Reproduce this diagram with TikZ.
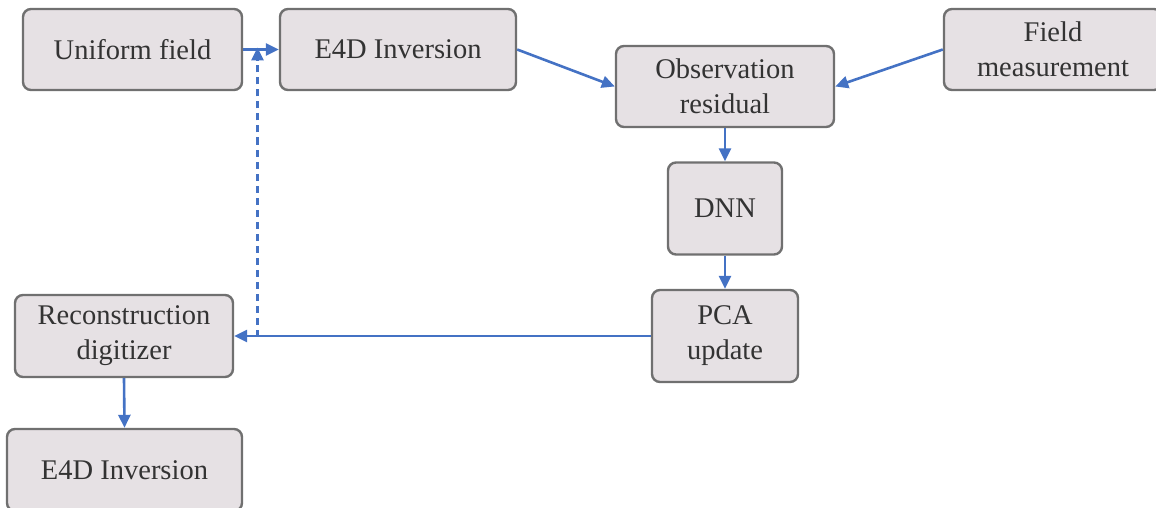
\documentclass[tikz,border=0pt]{standalone}
\usepackage{fontspec}
\setmainfont{LiberationSerif}[Extension=.ttf, UprightFont=*-Regular, BoldFont=*-Bold]
\usetikzlibrary{arrows.meta}
\definecolor{boxfill}{HTML}{E6E1E4}
\definecolor{boxline}{HTML}{707070}
\definecolor{flow}{HTML}{4472C4}
\definecolor{ink}{HTML}{333333}
\begin{document}
\begin{tikzpicture}[x=1pt, y=-1pt,
  stagebox/.style={draw=boxline, line width=2.4pt, fill=boxfill, rounded corners=8pt,
    text=ink, align=center, inner sep=0pt,
    font=\rmfamily\fontsize{28.5}{35}\selectfont},
  flowarrow/.style={draw=flow, line width=2.6pt, -{Triangle[length=13pt,width=12pt]}},
  dashflow/.style={flowarrow, dash pattern=on 7pt off 5pt}
]
\useasboundingbox (0,0) rectangle (1156,508);

% stages of the workflow
\node[stagebox, minimum width=219pt, minimum height=81pt] (uni) at (132.5,49.5) {Uniform field};
\node[stagebox, minimum width=236pt, minimum height=81pt] (inv) at (398,49.5) {E4D Inversion};
\node[stagebox, minimum width=218pt, minimum height=81pt] (obs) at (725,86.5) {Observation\\residual};
\node[stagebox, minimum width=218pt, minimum height=81pt] (meas) at (1053,49.5) {Field\\measurement};
\node[stagebox, minimum width=114pt, minimum height=92pt] (dnn) at (725,208.5) {DNN};
\node[stagebox, minimum width=146pt, minimum height=92pt] (pca) at (725,336) {PCA\\update};
\node[stagebox, minimum width=218pt, minimum height=82pt] (rec) at (124,336) {Reconstruction\\digitizer};
\node[stagebox, minimum width=235pt, minimum height=82pt] (inv2) at (124.5,470) {E4D Inversion};

% junction points of the feedback loop
\coordinate (loopTop) at (257.5,49.5);
\coordinate (loopBot) at (257.5,336.5);

% connectors
\draw[flowarrow] (uni.east) -- (inv.west);
\draw[flowarrow] (inv.east) -- (obs.west);
\draw[flowarrow] (meas.west) -- (obs.east);
\draw[flowarrow] (obs.south) -- (dnn.north);
\draw[flowarrow] (dnn.south) -- (pca.north);
\draw[flowarrow] (pca.west) -- (rec.east);
\draw[flowarrow] (rec.south) -- (inv2.north);
\draw[dashflow] (loopBot) -- ([yshift=2pt]loopTop);
\end{tikzpicture}
\end{document}
